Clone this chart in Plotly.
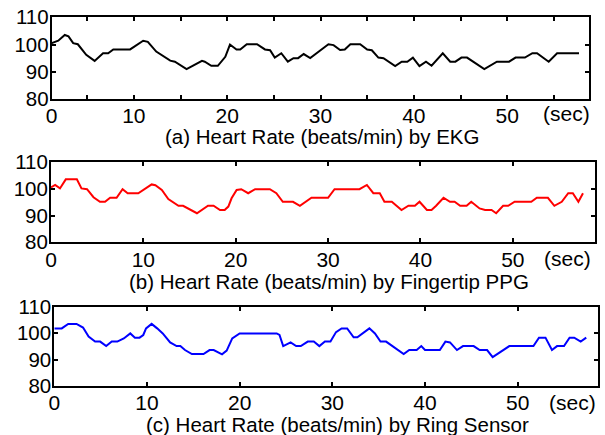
import plotly.graph_objects as go

# ---- data ----
ekg_t = [1.2, 1.9, 2.6, 3.0, 3.5, 4.0, 4.9, 5.8, 6.7, 7.25, 7.8, 9.6, 11.0, 11.5, 12.4,
         13.9, 14.4, 15.65, 17.3, 17.6, 18.3, 19.0, 19.8, 20.3, 21.0, 21.4, 22.1, 23.2, 24.05, 24.6,
         25.1, 25.8, 26.5, 27.1, 27.6, 28.2, 28.9, 30.1, 30.85, 31.4, 32.1, 32.6, 33.2, 34.25, 35.0,
         35.5, 36.2, 36.75, 38.0, 38.7, 39.3, 39.9, 40.6, 41.3, 41.9, 43.1, 43.9, 44.45, 45.1, 45.7,
         47.55, 48.9, 50.2, 50.9, 51.9, 52.7, 53.2, 54.45, 55.35, 57.7]
ekg_hr = [100.5, 101.4, 103.5, 103.0, 100.5, 100.1, 96.2, 94.0, 96.8, 96.8, 98.2, 98.2, 101.4, 101.0, 97.4,
          94.1, 93.7, 91.0, 94.0, 93.7, 92.2, 92.2, 95.5, 100.0, 98.2, 98.2, 100.1, 100.1, 98.2, 97.9,
          95.2, 96.8, 93.7, 95.0, 95.0, 96.5, 95.0, 98.2, 100.1, 99.8, 98.0, 98.2, 100.1, 100.1, 98.2,
          97.9, 95.2, 95.0, 92.1, 93.7, 93.7, 95.2, 92.1, 93.7, 92.2, 96.8, 93.7, 93.7, 95.2, 95.2,
          91.0, 93.7, 93.7, 95.2, 95.2, 96.8, 96.8, 93.7, 96.8, 96.8]

ppg_t = [0.0, 0.45, 0.97, 1.6, 2.8, 3.3, 3.9, 4.6, 5.3, 5.85, 6.4, 7.1, 7.75, 8.3, 9.45,
         10.9, 11.3, 12.0, 12.7, 13.8, 14.3, 14.9, 15.8, 17.0, 17.6, 18.3, 18.8, 19.2, 19.55, 20.1,
         20.6, 21.35, 22.1, 23.7, 24.4, 25.1, 26.2, 26.95, 28.2, 30.0, 30.7, 33.4, 34.2, 34.9, 35.6,
         36.1, 36.9, 37.95, 38.7, 39.4, 39.9, 40.7, 41.2, 41.7, 42.5, 43.2, 43.7, 44.3, 45.0, 45.5,
         46.4, 47.0, 47.7, 48.2, 48.95, 49.5, 50.2, 52.0, 52.6, 53.8, 54.5, 55.3, 56.0, 56.5, 57.1, 57.6]
ppg_hr = [100.6, 101.5, 100.2, 103.6, 103.6, 100.2, 99.9, 96.9, 95.2, 95.2, 96.7, 96.7, 99.9, 98.4, 98.4,
          101.7, 101.4, 99.6, 96.2, 93.7, 93.7, 92.5, 90.9, 93.7, 93.7, 92.1, 92.1, 93.4, 96.5, 99.6,
          99.9, 98.4, 99.9, 99.9, 98.4, 95.2, 95.2, 93.7, 96.7, 96.7, 99.9, 99.9, 101.5, 98.4, 98.4,
          95.2, 95.2, 92.1, 93.7, 93.7, 95.2, 92.1, 92.1, 93.7, 96.7, 95.2, 95.2, 93.7, 93.7, 95.2,
          92.7, 92.1, 92.1, 90.9, 93.7, 93.7, 95.2, 95.2, 96.7, 96.7, 93.7, 95.2, 98.4, 98.4, 95.2, 98.4]

ring_t = [0.0, 0.8, 1.5, 2.4, 3.1, 3.7, 4.4, 4.95, 5.6, 6.2, 6.8, 7.5, 8.2, 8.7, 9.2,
          9.6, 9.9, 10.5, 11.1, 11.7, 12.5, 13.2, 13.6, 14.1, 14.85, 16.1, 16.75, 17.2, 18.1, 18.6,
          19.2, 20.0, 24.0, 24.3, 24.7, 25.5, 26.1, 26.6, 27.35, 28.0, 28.6, 29.2, 29.8, 30.4, 31.0,
          31.6, 32.3, 32.7, 34.0, 34.6, 35.2, 35.8, 37.7, 38.3, 39.1, 39.6, 40.0, 41.6, 42.2, 42.7,
          43.45, 44.1, 45.25, 45.9, 46.7, 47.3, 49.1, 51.7, 52.3, 53.0, 53.7, 54.25, 55.0, 55.6, 56.1,
          56.8, 57.4]
ring_hr = [101.8, 101.8, 103.5, 103.5, 102.1, 98.7, 96.8, 96.8, 95.1, 96.8, 96.8, 98.0, 99.9, 98.3, 98.3,
           99.3, 101.8, 103.5, 101.8, 99.9, 96.5, 95.1, 95.1, 93.6, 92.1, 92.1, 93.6, 93.6, 92.0, 93.4,
           98.0, 99.9, 99.9, 99.3, 95.1, 96.5, 95.1, 95.1, 96.8, 96.8, 95.1, 96.8, 96.8, 100.4, 101.8,
           101.8, 98.4, 98.4, 101.8, 99.9, 96.8, 96.8, 92.1, 93.6, 93.6, 95.1, 93.6, 93.6, 96.8, 96.5,
           93.6, 95.1, 95.1, 93.6, 93.6, 90.9, 95.1, 95.1, 98.3, 98.3, 93.6, 95.1, 95.1, 98.3, 98.3,
           96.8, 98.3]

titles = ["(a) Heart Rate (beats/min) by EKG",
          "(b) Heart Rate (beats/min) by Fingertip PPG",
          "(c) Heart Rate (beats/min) by Ring Sensor"]
y_ticks = [80, 90, 100, 110]
unit_label = "(sec)"

W, H = 605, 435
FONT = "Liberation Sans, Arial, sans-serif"

def fx(p):
    return p / W

def fy(p):
    return 1 - p / H

# panel geometry in pixels: (left, right, top, bottom)
panels = [(51.7, 589.3, 17.3, 99.0), (51.0, 595.0, 162.3, 242.3), (54.3, 598.3, 306.7, 386.0)]
xranges = [[1.2, 58.8], [0.0, 58.9], [0.0, 58.7]]
series = [(ekg_t, ekg_hr, "#000000"), (ppg_t, ppg_hr, "#ff0000"), (ring_t, ring_hr, "#0000ff")]
title_pos = [(322, 136), (329, 281.5), (337.5, 424.5)]
sec_x = [56.4, 55.95, 55.9]
label_dy = [14.5, 16.0, 16.0]
x_standoff = [-3, -3, -3]

fig = go.Figure()
layout = dict(width=W, height=H, margin=dict(l=0, r=0, t=0, b=0, autoexpand=False),
              template="none",
              paper_bgcolor="white", plot_bgcolor="white", showlegend=False,
              font=dict(family=FONT, size=20, color="black"))
annotations = []

for i, ((t, hr, col), (l, r, tp, bt)) in enumerate(zip(series, panels)):
    n = "" if i == 0 else str(i + 1)
    fig.add_trace(go.Scatter(x=t, y=hr, mode="lines", line=dict(color=col, width=2),
                             xaxis="x" + n, yaxis="y" + n, hoverinfo="skip"))
    if i == 0:
        tv = [xranges[0][0]] + list(range(10, 60, 10))
        tt = ["0"] + [str(v) for v in range(10, 60, 10)]
        minor = dict(tickvals=list(range(5, 60, 10)), ticks="inside", ticklen=4,
                     tickwidth=1.5, tickcolor="black", showgrid=False)
    else:
        tv = list(range(0, 60, 10))
        tt = [str(v) for v in tv]
        minor = None
    xa = dict(domain=[fx(l), fx(r)], range=xranges[i], anchor="y" + n,
              automargin=False,
              tickmode="array", tickvals=tv, ticktext=tt, ticklabelstandoff=x_standoff[i],
              ticks="inside", ticklen=4, tickwidth=1.5, tickcolor="black",
              showline=True, linecolor="black", linewidth=2, mirror="ticks",
              showgrid=False, zeroline=False,
              tickfont=dict(family=FONT, size=21, color="black"))
    if minor:
        xa["minor"] = minor
    layout["xaxis" + n] = xa
    layout["yaxis" + n] = dict(domain=[fy(bt), fy(tp)], range=[80, 110], anchor="x" + n,
                               automargin=False,
                               tickmode="array", tickvals=y_ticks, ticklabelstandoff=-3,
                               ticks="inside", ticklen=4, tickwidth=1.5, tickcolor="black",
                               showline=True, linecolor="black", linewidth=2, mirror="ticks",
                               showgrid=False, zeroline=False,
                               tickfont=dict(family=FONT, size=20.5, color="black"))
    cx, cy = title_pos[i]
    annotations.append(dict(text=titles[i], xref="paper", yref="paper", x=fx(cx), y=fy(cy),
                            xanchor="center", yanchor="middle", showarrow=False,
                            font=dict(family=FONT, size=20.5, color="black")))
    annotations.append(dict(text=unit_label, xref="x" + n, yref="paper", x=sec_x[i],
                            y=fy(bt + label_dy[i]), xanchor="center", yanchor="middle",
                            showarrow=False,
                            font=dict(family=FONT, size=21, color="black")))

layout["annotations"] = annotations
fig.update_layout(**layout)
fig.write_html("out.html", config={"displayModeBar": False},
               post_script="document.body.style.margin='0px';document.body.style.padding='0px';")
